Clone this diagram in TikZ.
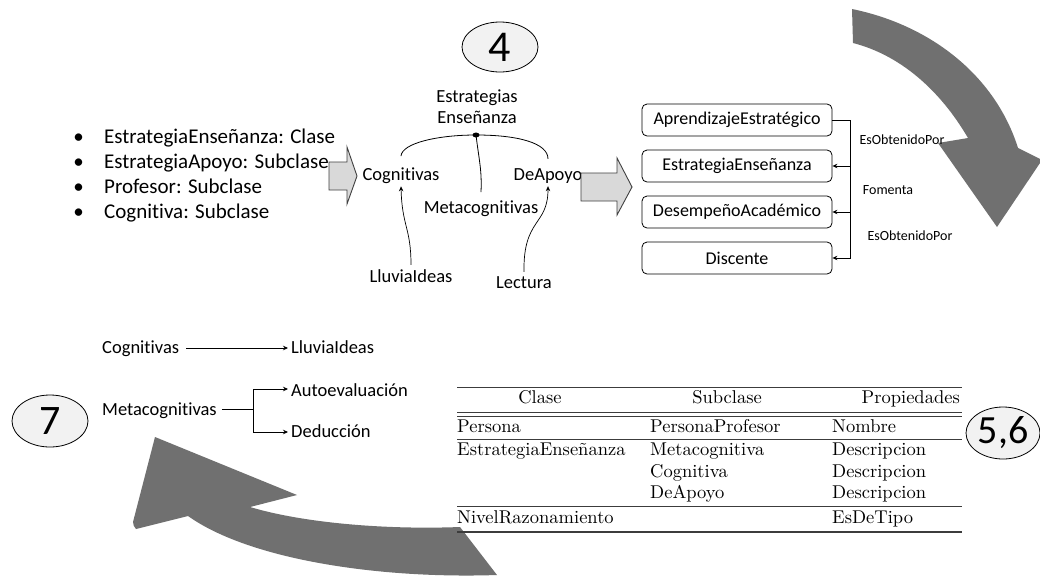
\documentclass[tikz,border=0pt]{standalone}
\usepackage{fontspec}
\newfontfamily\cf[Ligatures={NoCommon}]{Carlito}
\newfontfamily\lmten{lmroman10-regular.otf}
\usetikzlibrary{arrows.meta,shapes.geometric}
\definecolor{bigarrow}{RGB}{112,112,112}
\definecolor{blockfill}{RGB}{217,217,217}
\definecolor{blockline}{RGB}{64,64,64}
\definecolor{numfill}{RGB}{242,242,242}
\definecolor{rulecol}{RGB}{60,60,60}
\begin{document}
\begin{tikzpicture}[x=1pt,y=-1pt,
  lbl/.style={inner sep=0pt, font={\cf\fontsize{18.5}{21}\selectfont}},
  bul/.style={inner sep=0pt, font={\cf\fontsize{21}{25}\selectfont}},
  rel/.style={inner sep=0pt, font={\cf\fontsize{14}{16}\selectfont}},
  tab/.style={inner sep=0pt, font={\lmten\fontsize{18.5}{22}\selectfont}},
  box/.style={draw, rounded corners=5pt, minimum width=190pt, minimum height=32pt,
              inner sep=0pt, line width=0.8pt, font={\cf\fontsize{18}{21}\selectfont}},
  num/.style={draw, ellipse, fill=numfill, inner sep=0pt, line width=0.8pt},
  blockarrow/.style={fill=blockfill, draw=blockline, line width=0.9pt, line join=miter},
  arr/.style={-{Stealth[length=5pt,width=4.5pt]}, line width=0.7pt},
  thin/.style={line width=0.8pt},
  rl/.style={draw=rulecol, line width=0.9pt}]

% canvas
\fill[white] (0,0) rectangle (1040,576);
\useasboundingbox (0,0) rectangle (1040,576);

% large curved arrows
\fill[bigarrow] (852,9) .. controls (930,25) and (995,75) .. (1018,148)
  -- (1042,160) -- (997,227) -- (938,143) -- (968,138)
  .. controls (940,90) and (900,55) .. (853,43) -- cycle;
\fill[bigarrow] (460,527) -- (497,575)
  .. controls (380,579) and (250,560) .. (188,516)
  -- (136,529) to[bend left=20] (133,522) -- (155,437) -- (297,495) -- (250,507)
  .. controls (300,522) and (380,530) .. (460,527) -- cycle;

% step numbers
\node[num, minimum width=76pt, minimum height=50pt, font={\cf\fontsize{44}{44}\selectfont}] (n4) at (500,47) {4};
\node[num, minimum width=76pt, minimum height=52pt, font={\cf\fontsize{42}{42}\selectfont}] (n7) at (50,421) {7};
\node[num, minimum width=74pt, minimum height=52pt, font={\cf\fontsize{40}{40}\selectfont}] (n56) at (1003,433) {5,6};

% class list
\foreach \yb/\t [count=\i] in {143/{EstrategiaEnseñanza: Clase},
                              168.3/{EstrategiaApoyo: Subclase},
                              193.6/{Profesor: Subclase},
                              218.9/{Cognitiva: Subclase}} {
  \node[bul, anchor=base] (b\i) at (78.5,\yb) {•};
  \node[bul, anchor=base west] (t\i) at (104,\yb) {\t};
}

% block arrows
\draw[blockarrow] (329,162) -- (347,162) -- (347,147) -- (357,176) -- (347,204) -- (347,190) -- (329,190) -- cycle;

% hierarchy of strategies
\node[lbl, align=center] (es) at (477,106.5) {Estrategias\\Enseñanza};
\node[lbl, anchor=base] (cog) at (401,180) {Cognitivas};
\node[lbl, anchor=base] (dea) at (548,180) {DeApoyo};
\node[lbl, anchor=base] (met) at (481,213) {Metacognitivas};
\node[lbl, anchor=base] (llu) at (411,282) {LluviaIdeas};
\node[lbl, anchor=base] (lec) at (524,288) {Lectura};
\node[fill, ellipse, inner sep=0pt, minimum width=7pt, minimum height=5pt] (j) at (476,135) {};

\draw[thin] (j.center) .. controls (438,135) and (402,143) .. ([yshift=11pt]cog.north);
\draw[thin] (j.center) .. controls (518,135) and (548,143) .. ([yshift=9pt]dea.north);
\draw[thin] (j.center) .. controls (479,160) and (482,170) .. ([yshift=8pt]met.north);
\draw[arr] ([yshift=4pt]llu.north) .. controls (411,228) and (402,226) .. ([yshift=-3pt]cog.south);
\draw[arr] ([yshift=4pt]lec.north) .. controls (523,218) and (548,226) .. ([yshift=-3pt]dea.south);

\draw[blockarrow] (581,173) -- (617,173) -- (617,158) -- (632,187) -- (617,215) -- (617,201) -- (581,201) -- cycle;

% ontology classes and relations
\node[box] (c1) at (737,120) {AprendizajeEstratégico};
\node[box] (c2) at (737,166) {EstrategiaEnseñanza};
\node[box] (c3) at (737,212) {DesempeñoAcadémico};
\node[box] (c4) at (737,258) {Discente};
\coordinate (sp) at (850,120);
\draw[arr] (c1.east) -- (sp) |- (c4.east);
\draw[arr] (sp |- c2.east) -- (c2.east);
\draw[arr] (sp |- c3.east) -- (c3.east);
\node[rel, anchor=base] (r1) at (902,144) {EsObtenidoPor};
\node[rel, anchor=base] (r2) at (888,194) {Fomenta};
\node[rel, anchor=base] (r3) at (910,240) {EsObtenidoPor};

% subclass instances
\node[lbl, anchor=base west] (cg2) at (102,353) {Cognitivas};
\node[lbl, anchor=base west] (ll2) at (291,353) {LluviaIdeas};
\node[lbl, anchor=base west] (mt2) at (102,415) {Metacognitivas};
\node[lbl, anchor=base west] (au2) at (291,396) {Autoevaluación};
\node[lbl, anchor=base west] (de2) at (291,437) {Deducción};
\draw[arr] ([xshift=7pt,yshift=5pt]cg2.base east) -- ([xshift=-3pt,yshift=5pt]ll2.base west);
\coordinate (fork) at (253,409);
\draw[thin] ([xshift=5pt,yshift=6pt]mt2.base east) -- (fork);
\draw[arr] (fork) |- ([xshift=-3pt,yshift=7pt]au2.base west);
\draw[arr] (fork) |- ([xshift=-3pt,yshift=5pt]de2.base west);

% class table
\draw[rl] (457,387) -- (962,387);
\draw[rl] (457,412) -- (962,412);
\draw[rl] (457,416) -- (962,416);
\draw[rl] (457,439) -- (962,439);
\draw[rl] (457,506) -- (962,506);
\draw[draw=rulecol, line width=1.4pt] (457,532) -- (962,532);
\node[tab, anchor=base] (h1) at (540,403) {Clase};
\node[tab, anchor=base] (h2) at (727,403) {Subclase};
\node[tab, anchor=base east] (h3) at (960,403) {Propiedades};
\node[tab, anchor=base west] (a1) at (457,432) {Persona};
\node[tab, anchor=base west] (a2) at (650,432) {PersonaProfesor};
\node[tab, anchor=base west] (a3) at (832,432) {Nombre};
\node[tab, anchor=base west] (e1) at (457,455) {EstrategiaEnseñanza};
\node[tab, anchor=base west] (e2) at (650,455) {Metacognitiva};
\node[tab, anchor=base west] (e3) at (832,455) {Descripcion};
\node[tab, anchor=base west] (f2) at (650,477) {Cognitiva};
\node[tab, anchor=base west] (f3) at (832,477) {Descripcion};
\node[tab, anchor=base west] (g2) at (650,498) {DeApoyo};
\node[tab, anchor=base west] (g3) at (832,498) {Descripcion};
\node[tab, anchor=base west] (k1) at (457,523) {NivelRazonamiento};
\node[tab, anchor=base west] (k3) at (832,523) {EsDeTipo};
\end{tikzpicture}
\end{document}
